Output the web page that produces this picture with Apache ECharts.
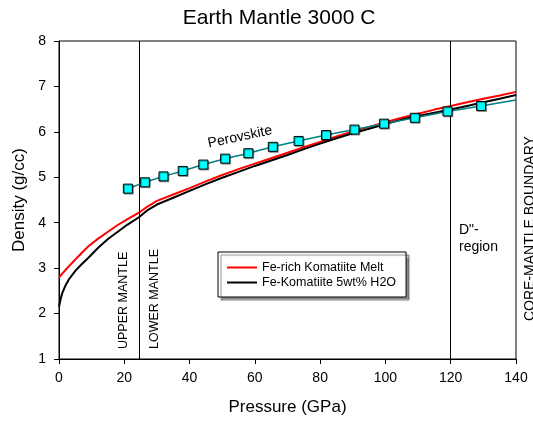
<!DOCTYPE html>
<html>
<head>
<meta charset="utf-8">
<script src="https://cdn.jsdelivr.net/npm/echarts@6/dist/echarts.min.js"></script>
<style>
  html, body { margin: 0; padding: 0; background: #fff; }
  #chart { width: 533px; height: 421px; }
</style>
</head>
<body>
<div id="chart"></div>
<script>
// Fe-rich Komatiite Melt (pressure GPa, density g/cc)
var meltP = [0, 1, 2, 3, 5, 7, 9, 12, 15, 18, 21, 24.5, 27, 30, 35, 40, 45, 50, 55, 60, 65, 70, 75, 80, 85, 90, 95, 100, 105, 110, 115, 120, 125, 130, 135, 140];
var meltD = [2.79, 2.88, 2.96, 3.04, 3.19, 3.34, 3.48, 3.65, 3.80, 3.95, 4.08, 4.22, 4.35, 4.48, 4.62, 4.76, 4.91, 5.05, 5.18, 5.30, 5.42, 5.54, 5.66, 5.78, 5.90, 6.01, 6.11, 6.21, 6.31, 6.40, 6.49, 6.57, 6.65, 6.73, 6.80, 6.88];

// Fe-Komatiite 5wt% H2O
var wetP = [0, 0.5, 1, 2, 3, 5, 7, 9, 12, 15, 18, 21, 24.5, 27, 30, 35, 40, 45, 50, 55, 60, 65, 70, 75, 80, 85, 90, 95, 100, 105, 110, 115, 120, 125, 130, 135, 140];
var wetD = [2.15, 2.32, 2.45, 2.62, 2.75, 2.94, 3.09, 3.23, 3.45, 3.64, 3.80, 3.96, 4.12, 4.27, 4.40, 4.55, 4.70, 4.85, 4.99, 5.12, 5.25, 5.37, 5.49, 5.62, 5.74, 5.86, 5.97, 6.07, 6.17, 6.27, 6.35, 6.42, 6.49, 6.57, 6.65, 6.73, 6.81];

// Perovskite (last point has no marker)
var perovP = [21.1, 26.3, 32.0, 37.9, 44.2, 50.9, 58.0, 65.5, 73.4, 81.8, 90.5, 99.6, 109.0, 119.0, 129.3, 140];
var perovD = [4.75, 4.89, 5.02, 5.14, 5.28, 5.41, 5.53, 5.67, 5.80, 5.93, 6.05, 6.18, 6.31, 6.45, 6.57, 6.70];

// boundaries
var boundaries = [24.5, 120];

var xTicks = {min: 0, max: 140, interval: 20};
var yTicks = {min: 1, max: 8, interval: 1};

function pairs(xs, ys) {
    var out = [];
    for (var i = 0; i < xs.length; i++) {
        out.push([xs[i], ys[i]]);
    }
    return out;
}

var perovData = pairs(perovP, perovD);
perovData[perovData.length - 1] = {value: perovData[perovData.length - 1], symbol: 'none'};

var font = 'Liberation Sans, Arial, sans-serif';

var chart = echarts.init(document.getElementById('chart'));

var option = {
    animation: false,
    textStyle: {fontFamily: font, color: '#000'},
    title: {
        text: 'Earth Mantle 3000 C',
        left: 279,
        top: 8,
        padding: 0,
        textAlign: 'center',
        textStyle: {fontFamily: font, fontSize: 21, fontWeight: 'normal', color: '#000'}
    },
    grid: {
        left: 59,
        right: 17,
        top: 41,
        bottom: 61,
        show: true,
        borderColor: '#000',
        borderWidth: 1,
        backgroundColor: 'transparent'
    },
    legend: {
        orient: 'vertical',
        left: 218,
        top: 252,
        padding: [9, 10, 8, 8],
        itemWidth: 30,
        itemHeight: 14,
        itemGap: 2,
        data: ['Fe-rich Komatiite Melt', 'Fe-Komatiite 5wt% H2O'],
        itemStyle: {opacity: 0},
        backgroundColor: '#fff',
        borderColor: '#000',
        borderWidth: 1,
        borderRadius: 0,
        shadowColor: 'rgba(0,0,0,0.45)',
        shadowBlur: 1,
        shadowOffsetX: 3,
        shadowOffsetY: 3,
        textStyle: {fontFamily: font, fontSize: 12.5, color: '#000'}
    },
    xAxis: {
        type: 'value',
        min: xTicks.min,
        max: xTicks.max,
        interval: xTicks.interval,
        name: 'Pressure (GPa)',
        nameLocation: 'middle',
        nameGap: 40,
        nameTextStyle: {fontFamily: font, fontSize: 17, color: '#000'},
        axisLine: {lineStyle: {color: '#000', width: 1}},
        axisTick: {show: true, inside: false, length: 5, lineStyle: {color: '#000'}},
        axisLabel: {fontFamily: font, fontSize: 14, color: '#000', margin: 12},
        splitLine: {show: false}
    },
    yAxis: {
        type: 'value',
        min: yTicks.min,
        max: yTicks.max,
        interval: yTicks.interval,
        name: 'Density (g/cc)',
        nameLocation: 'middle',
        nameGap: 31,
        nameTextStyle: {fontFamily: font, fontSize: 17, color: '#000'},
        axisLine: {show: true, lineStyle: {color: '#000', width: 1}},
        axisTick: {show: true, inside: false, length: 5, lineStyle: {color: '#000'}},
        axisLabel: {fontFamily: font, fontSize: 14, color: '#000', margin: 13},
        splitLine: {show: false}
    },
    series: [
        {
            name: 'Fe-rich Komatiite Melt',
            type: 'line',
            symbol: 'none',
            smooth: false,
            lineStyle: {color: '#ff0000', width: 2},
            itemStyle: {color: '#ff0000'},
            data: pairs(meltP, meltD),
            markLine: {
                silent: true,
                symbol: 'none',
                label: {show: false},
                lineStyle: {color: '#000', width: 1, type: 'solid'},
                data: boundaries.map(function (b) { return {xAxis: b}; })
            },
            z: 3
        },
        {
            name: 'Fe-Komatiite 5wt% H2O',
            type: 'line',
            symbol: 'none',
            smooth: false,
            lineStyle: {color: '#000', width: 2},
            itemStyle: {color: '#000'},
            data: pairs(wetP, wetD),
            z: 4
        },
        {
            name: 'Perovskite',
            type: 'line',
            symbol: 'rect',
            symbolSize: 9,
            showAllSymbol: true,
            lineStyle: {color: '#008080', width: 1.5},
            itemStyle: {
                color: '#00ffff',
                borderColor: '#000',
                borderWidth: 1,
                shadowColor: 'rgba(0,0,0,0.35)',
                shadowOffsetX: 1,
                shadowOffsetY: 1
            },
            data: perovData,
            z: 5
        }
    ],
    graphic: [
        {
            type: 'text', x: 240, y: 137, rotation: 12 * Math.PI / 180,
            style: {text: 'Perovskite', font: '14px ' + font, fill: '#000', align: 'center', verticalAlign: 'middle'}
        },
        {
            type: 'text', x: 124, y: 349, rotation: Math.PI / 2,
            style: {text: 'UPPER MANTLE', font: '12.5px ' + font, fill: '#000', align: 'left', verticalAlign: 'middle'}
        },
        {
            type: 'text', x: 155, y: 349, rotation: Math.PI / 2,
            style: {text: 'LOWER MANTLE', font: '12.5px ' + font, fill: '#000', align: 'left', verticalAlign: 'middle'}
        },
        {
            type: 'text', x: 459, y: 222,
            style: {text: 'D"-\nregion', font: '14px ' + font, lineHeight: 17, fill: '#000', align: 'left', verticalAlign: 'top'}
        },
        {
            type: 'text', x: 530, y: 321, rotation: Math.PI / 2,
            style: {text: 'CORE-MANTLE BOUNDARY', font: '14px ' + font, fill: '#000', align: 'left', verticalAlign: 'middle'}
        }
    ]
};

chart.setOption(option);
</script>
</body>
</html>
